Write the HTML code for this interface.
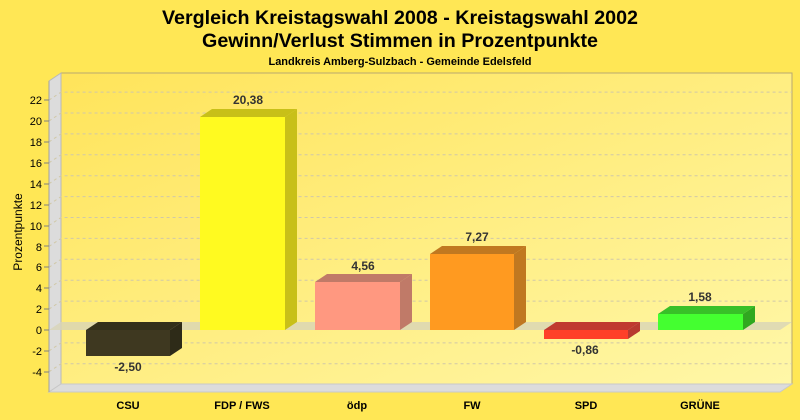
<!DOCTYPE html>
<html><head><meta charset="utf-8"><style>
body{margin:0;background:#FFE755;}
svg{display:block;font-family:"Liberation Sans",sans-serif;}
</style></head><body>
<svg width="800" height="420" viewBox="0 0 800 420" xmlns="http://www.w3.org/2000/svg">
<defs>
<linearGradient id="bg" x1="0" y1="0" x2="1" y2="1">
<stop offset="0" stop-color="#FFE45A"/><stop offset="1" stop-color="#FFF7A8"/>
</linearGradient>
</defs>
<rect width="800" height="420" fill="#FFE755"/>
<text x="400" y="24" text-anchor="middle" font-size="19.7" font-weight="bold">Vergleich Kreistagswahl 2008 - Kreistagswahl 2002</text>
<text x="400" y="47" text-anchor="middle" font-size="19.7" font-weight="bold">Gewinn/Verlust Stimmen in Prozentpunkte</text>
<text x="400" y="65" text-anchor="middle" font-size="11" font-weight="bold">Landkreis Amberg-Sulzbach - Gemeinde Edelsfeld</text>
<rect x="61" y="73" width="731" height="311" fill="url(#bg)" stroke="#B8A870" stroke-width="1"/>
<polygon points="49,81 61,73 61,384 49,392" fill="#DCDCDC" stroke="#B8B8B8" stroke-width="1"/>
<polygon points="49,392 61,384 792,384 780,392" fill="#DCDCDC" stroke="#C8C8C8" stroke-width="1"/>
<g stroke="#D0C8A8" stroke-dasharray="3,3" stroke-width="1" fill="none">
<path d="M49,100.1 L61,92.1 H792"/><path d="M49,121 L61,113 H792"/><path d="M49,141.9 L61,133.9 H792"/>
<path d="M49,162.8 L61,154.8 H792"/><path d="M49,183.7 L61,175.7 H792"/><path d="M49,204.6 L61,196.6 H792"/>
<path d="M49,225.5 L61,217.5 H792"/><path d="M49,246.4 L61,238.4 H792"/><path d="M49,267.3 L61,259.3 H792"/>
<path d="M49,288.2 L61,280.2 H792"/><path d="M49,309.1 L61,301.1 H792"/>
<path d="M49,350.9 L61,342.9 H792"/><path d="M49,371.8 L61,363.8 H792"/>
</g>
<polygon points="49,330 61,322 792,322 780,330" fill="#D8D4B8" opacity="0.8"/>
<line x1="49" y1="81" x2="49" y2="392" stroke="#A0A0A0"/>
<g font-size="11" text-anchor="end" fill="#000">
<text x="42" y="104">22</text><text x="42" y="125">20</text><text x="42" y="146">18</text><text x="42" y="167">16</text>
<text x="42" y="188">14</text><text x="42" y="209">12</text><text x="42" y="230">10</text><text x="42" y="251">8</text>
<text x="42" y="271">6</text><text x="42" y="292">4</text><text x="42" y="313">2</text><text x="42" y="334">0</text>
<text x="42" y="355">-2</text><text x="42" y="376">-4</text>
</g>
<g stroke="#808080"><path d="M44,100H49M44,121H49M44,142H49M44,163H49M44,184H49M44,205H49M44,226H49M44,246H49M44,267H49M44,288H49M44,309H49M44,330H49M44,351H49M44,372H49"/></g>
<text transform="translate(22,232) rotate(-90)" text-anchor="middle" font-size="12">Prozentpunkte</text>
<g>
<polygon points="86,330 98,322 182,322 170,330" fill="#33301A"/>
<polygon points="170,330 182,322 182,348 170,356" fill="#2E2B18"/>
<rect x="86" y="330" width="84" height="26" fill="#3E3820"/>

<polygon points="200,117 212,109 297,109 285,117" fill="#C8C018"/>
<polygon points="285,117 297,109 297,322 285,330" fill="#C8C018"/>
<rect x="200" y="117" width="85" height="213" fill="#FFFA20"/>

<polygon points="315,282 327,274 412,274 400,282" fill="#C07A68"/>
<polygon points="400,282 412,274 412,322 400,330" fill="#C07A68"/>
<rect x="315" y="282" width="85" height="48" fill="#FF9880"/>

<polygon points="430,254 442,246 526,246 514,254" fill="#C07820"/>
<polygon points="514,254 526,246 526,322 514,330" fill="#C07820"/>
<rect x="430" y="254" width="84" height="76" fill="#FF9A20"/>

<polygon points="544,330 556,322 640,322 628,330" fill="#C03A30"/>
<polygon points="628,330 640,322 640,331 628,339" fill="#B83A30"/>
<rect x="544" y="330" width="84" height="9" fill="#FF4028"/>

<polygon points="658,314 670,306 755,306 743,314" fill="#38C028"/>
<polygon points="743,314 755,306 755,322 743,330" fill="#30A820"/>
<rect x="658" y="314" width="85" height="16" fill="#44FF30"/>
</g>
<g font-size="12" font-weight="bold" fill="#333" text-anchor="middle">
<text x="128" y="371">-2,50</text>
<text x="248" y="104">20,38</text>
<text x="363" y="270">4,56</text>
<text x="477" y="241">7,27</text>
<text x="585" y="354">-0,86</text>
<text x="700" y="301">1,58</text>
</g>
<g font-size="11" font-weight="bold" text-anchor="middle">
<text x="128" y="409">CSU</text><text x="242" y="409">FDP / FWS</text><text x="357" y="409">ödp</text>
<text x="472" y="409">FW</text><text x="586" y="409">SPD</text><text x="700" y="409">GRÜNE</text>
</g>
</svg>
</body></html>
